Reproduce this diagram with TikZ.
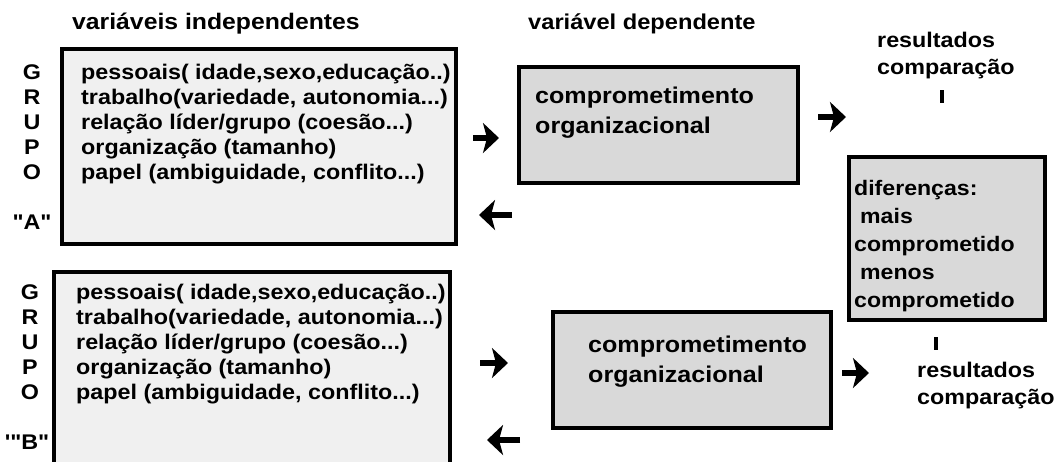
\documentclass[tikz,border=0pt]{standalone}
\usepackage{fontspec}
\setmainfont{Liberation Sans}[FakeStretch=1.1, Ligatures=TeXOff]
\usetikzlibrary{arrows.meta}
\definecolor{fundoA}{HTML}{F0F0F0}
\definecolor{fundoB}{HTML}{D9D9D9}
\tikzset{
  caixa/.style={draw, line width=4pt, fill=#1, inner sep=0pt},
  texto/.style={anchor=base west, inner sep=0pt, align=left, font=\fontsize{21.2}{25}\selectfont\bfseries},
  grupo/.style={anchor=base, inner sep=0pt, align=center, font=\fontsize{21.2}{25}\selectfont\bfseries},
  seta/.style={line width=6pt, -{Stealth[length=16pt, width=30pt, inset=4pt]}},
}
\begin{document}
\begin{tikzpicture}[x=1pt, y=-1pt]
\clip (0,0) rectangle (1057,461);
\node[texto, font=\fontsize{22.5}{24}\selectfont\bfseries] (T_0) at (72,29) {variáveis independentes};
\node[texto, font=\fontsize{21.5}{24}\selectfont\bfseries] (T_1) at (528,29) {variável dependente};
% grupo A
\node[caixa=fundoA, minimum width=394, minimum height=195] (C_0_0) at (259,146.5) {};
\node[texto] (L_0_0) at (81,179) {pessoais( idade,sexo,educação..)\\trabalho(variedade, autonomia...)\\relação líder/grupo (coesão...)\\organização (tamanho)\\papel (ambiguidade, conflito...)};
\node[grupo] (G_0_0) at (32,179) {G\\R\\U\\P\\O};
\node[grupo] (G_0_1) at (32,229) {"A"};
\node[caixa=fundoB, minimum width=279, minimum height=116] (C_1_0) at (658.5,125) {};
\node[texto, font=\fontsize{22.8}{30}\selectfont\bfseries] (L_1_0) at (535,133) {comprometimento\\organizacional};
\coordinate (S_0_0) at (473,138);
\coordinate (S_0_1) at (499,138);
\draw[seta] (S_0_0) -- (S_0_1);
\coordinate (S_0_2) at (512,215);
\coordinate (S_0_3) at (479,215);
\draw[seta] (S_0_2) -- (S_0_3);
\coordinate (S_0_4) at (818,117);
\coordinate (S_0_5) at (846,117);
\draw[seta] (S_0_4) -- (S_0_5);
\node[texto] (R_0_0) at (877,74) {resultados\\[2pt]comparação};
\coordinate (M_0_0) at (942,90);
\coordinate (M_0_1) at (942,103);
\draw[line width=3.5pt] (M_0_0) -- (M_0_1);
% diferencas
\node[caixa=fundoB, minimum width=196, minimum height=163] (C_2_0) at (947,238.5) {};
\node[texto, font=\fontsize{21}{28}\selectfont\bfseries] (L_2_0) at (854,307) {diferenças:\\\hspace{6pt}mais\\comprometido\\\hspace{6pt}menos\\comprometido};
% grupo B
\node[caixa=fundoA, minimum width=396, minimum height=198] (C_3_0) at (252,371) {};
\node[texto] (L_3_0) at (76,399) {pessoais( idade,sexo,educação..)\\trabalho(variedade, autonomia...)\\relação líder/grupo (coesão...)\\organização (tamanho)\\papel (ambiguidade, conflito...)};
\node[grupo] (G_3_0) at (30,399) {G\\R\\U\\P\\O};
\node[grupo] (G_3_1) at (27,449) {'"B"};
\node[caixa=fundoB, minimum width=278, minimum height=116] (C_4_0) at (692,370) {};
\node[texto, font=\fontsize{22.8}{30}\selectfont\bfseries] (L_4_0) at (588,382) {comprometimento\\organizacional};
\coordinate (S_3_0) at (480,363);
\coordinate (S_3_1) at (508,363);
\draw[seta] (S_3_0) -- (S_3_1);
\coordinate (S_3_2) at (520,440);
\coordinate (S_3_3) at (487,440);
\draw[seta] (S_3_2) -- (S_3_3);
\coordinate (S_3_4) at (842,373);
\coordinate (S_3_5) at (869,373);
\draw[seta] (S_3_4) -- (S_3_5);
\node[texto] (R_3_0) at (917,404) {resultados\\[2pt]comparação};
\coordinate (M_3_0) at (936,337);
\coordinate (M_3_1) at (936,350);
\draw[line width=3.5pt] (M_3_0) -- (M_3_1);
\end{tikzpicture}
\end{document}
